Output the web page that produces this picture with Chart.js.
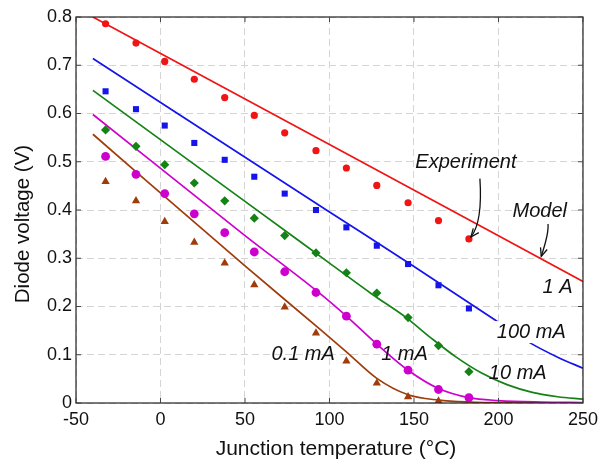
<!DOCTYPE html>
<html>
<head>
<meta charset="utf-8">
<script src="https://cdn.jsdelivr.net/npm/chart.js@4.4.0/dist/chart.umd.min.js"></script>
<style>
html, body { margin: 0; padding: 0; background: #fff; }
#wrap { width: 604px; height: 463px; }
</style>
</head>
<body>
<div id="wrap"><canvas id="myChart"></canvas></div>
<script>
// measured temperatures of the experiment points (deg C)
var temps = [-32.5, -14.5, 2.5, 20, 38, 55.5, 73.5, 92, 110, 128, 146.5, 164.5, 182.5];

// experiment, diode voltage (V)
var exp1A   = [0.786, 0.746, 0.708, 0.671, 0.633, 0.596, 0.560, 0.523, 0.487, 0.451, 0.415, 0.378, 0.340];
var exp100m = [0.646, 0.609, 0.575, 0.539, 0.504, 0.469, 0.434, 0.400, 0.364, 0.326, 0.288, 0.244, 0.196];
var exp10m  = [0.566, 0.532, 0.494, 0.456, 0.419, 0.383, 0.347, 0.311, 0.270, 0.228, 0.177, 0.119, 0.065];
var exp1m   = [0.511, 0.474, 0.434, 0.392, 0.353, 0.313, 0.272, 0.229, 0.180, 0.122, 0.068, 0.028, 0.011];
var exp01m  = [0.459, 0.419, 0.376, 0.333, 0.290, 0.245, 0.199, 0.145, 0.087, 0.041, 0.013, 0.004, 0.002];

// model curves: [T, V]
var model1A   = [[-40, 0.800], [100, 0.536], [250, 0.252]];
var model100m = [[-40, 0.714], [100, 0.396], [150, 0.283], [198, 0.172], [220, 0.122], [235, 0.095], [250, 0.072]];
var model10m  = [[-40, 0.648], [50, 0.418], [100, 0.290], [125, 0.226], [145, 0.178], [160, 0.135], [175, 0.095],
                 [190, 0.062], [205, 0.038], [220, 0.022], [235, 0.013], [250, 0.008]];
var model1m   = [[-40, 0.598], [50, 0.347], [95, 0.225], [110, 0.180], [128, 0.122], [146.5, 0.068], [164.5, 0.030],
                 [182.5, 0.011], [200, 0.005], [225, 0.002], [250, 0.001]];
var model01m  = [[-40, 0.557], [50, 0.284], [95, 0.151], [110, 0.106], [128, 0.051], [146.5, 0.017], [164.5, 0.006],
                 [182.5, 0.002], [210, 0.0005], [250, 0]];

var xTicks = [-50, 0, 50, 100, 150, 200, 250];
var yTicks = [0, 0.1, 0.2, 0.3, 0.4, 0.5, 0.6, 0.7, 0.8];

var xTitle = 'Junction temperature (°C)';
var yTitle = 'Diode voltage (V)';

// text labels in data coordinates
var labels = [
    { text: 'Experiment', x: 180.7, y: 0.498 },
    { text: 'Model', x: 224.4, y: 0.396 },
    { text: '1 A', x: 235.0, y: 0.239 },
    { text: '100 mA', x: 219.4, y: 0.147, white: true },
    { text: '10 mA', x: 211.4, y: 0.062 },
    { text: '1 mA', x: 144.4, y: 0.100 },
    { text: '0.1 mA', x: 84.4, y: 0.100 }
];
// callout arrows: start, control, tip
var arrows = [
    [[189.0, 0.465], [190.7, 0.3755], [183.7, 0.344]],
    [[229.3, 0.371], [229.9, 0.3527], [225.3, 0.304]]
];

var red = 'rgb(240,20,20)', blue = 'rgb(20,20,235)', green = 'rgb(20,130,20)',
    magenta = 'rgb(205,0,205)', brown = 'rgb(160,60,10)';

function pts(ys) { return temps.map(function(t, i) { return { x: t, y: ys[i] }; }); }
function line(arr) { return arr.map(function(p) { return { x: p[0], y: p[1] }; }); }

function scatterSet(ys, color, style, r) {
    return { type: 'scatter', data: pts(ys), pointStyle: style, pointRadius: r,
             backgroundColor: color, borderColor: color, borderWidth: 0, order: 1 };
}
function modelSet(arr, color) {
    return { type: 'line', data: line(arr), borderColor: color, borderWidth: 1.7,
             pointRadius: 0, fill: false, cubicInterpolationMode: 'monotone', order: 2 };
}

var FONT = "'Liberation Sans', Arial, sans-serif";

var decor = {
    id: 'decor',
    afterDatasetsDraw: function(chart) {
        var ctx = chart.ctx, a = chart.chartArea;
        var xs = chart.scales.x, ys = chart.scales.y;
        ctx.save();
        // frame
        ctx.strokeStyle = '#222';
        ctx.lineWidth = 1.2;
        ctx.strokeRect(a.left, a.top, a.right - a.left, a.bottom - a.top);
        // inward ticks
        ctx.strokeStyle = '#444';
        ctx.lineWidth = 1;
        ctx.beginPath();
        xTicks.forEach(function(t) {
            var px = xs.getPixelForValue(t);
            ctx.moveTo(px, a.bottom); ctx.lineTo(px, a.bottom - 5);
            ctx.moveTo(px, a.top); ctx.lineTo(px, a.top + 5);
        });
        yTicks.forEach(function(t) {
            var py = ys.getPixelForValue(t);
            ctx.moveTo(a.left, py); ctx.lineTo(a.left + 5, py);
            ctx.moveTo(a.right, py); ctx.lineTo(a.right - 5, py);
        });
        ctx.stroke();

        // axis titles
        ctx.fillStyle = '#111';
        ctx.textAlign = 'center';
        ctx.textBaseline = 'middle';
        ctx.font = '21px ' + FONT;
        ctx.fillText(xTitle, 336, 449);
        ctx.save();
        ctx.translate(23, 224);
        ctx.rotate(-Math.PI / 2);
        ctx.font = '20.5px ' + FONT;
        ctx.fillText(yTitle, 0, 0);
        ctx.restore();

        // labels
        ctx.font = 'italic 20px ' + FONT;
        labels.forEach(function(l) {
            var px = xs.getPixelForValue(l.x), py = ys.getPixelForValue(l.y);
            if (l.white) {
                var w = ctx.measureText(l.text).width;
                ctx.fillStyle = '#fff';
                ctx.fillRect(px - w / 2 - 2, py - 11, w + 4, 22);
            }
            ctx.fillStyle = '#111';
            ctx.fillText(l.text, px, py);
        });

        // arrows
        ctx.strokeStyle = '#111';
        ctx.lineWidth = 1.3;
        arrows.forEach(function(ar) {
            var p = ar.map(function(q) { return [xs.getPixelForValue(q[0]), ys.getPixelForValue(q[1])]; });
            ctx.beginPath();
            ctx.moveTo(p[0][0], p[0][1]);
            ctx.quadraticCurveTo(p[1][0], p[1][1], p[2][0], p[2][1]);
            ctx.stroke();
            var ang = Math.atan2(p[2][1] - p[1][1], p[2][0] - p[1][0]);
            ctx.beginPath();
            ctx.moveTo(p[2][0] - 9 * Math.cos(ang - 0.4), p[2][1] - 9 * Math.sin(ang - 0.4));
            ctx.lineTo(p[2][0], p[2][1]);
            ctx.lineTo(p[2][0] - 9 * Math.cos(ang + 0.4), p[2][1] - 9 * Math.sin(ang + 0.4));
            ctx.stroke();
        });
        ctx.restore();
    }
};

var ctx = document.getElementById('myChart').getContext('2d');
var chart = new Chart(ctx, {
    data: {
        datasets: [
            modelSet(model1A, red),
            modelSet(model100m, blue),
            modelSet(model10m, green),
            modelSet(model1m, magenta),
            modelSet(model01m, brown),
            scatterSet(exp1A, red, 'circle', 3.6),
            scatterSet(exp100m, blue, 'rect', 4.3),
            scatterSet(exp10m, green, 'rectRot', 4.6),
            scatterSet(exp1m, magenta, 'circle', 4.4),
            scatterSet(exp01m, brown, 'triangle', 4.8)
        ]
    },
    options: {
        responsive: true,
        maintainAspectRatio: false,
        animation: false,
        layout: { padding: { top: 17, right: 21, left: 0, bottom: 0 } },
        plugins: { legend: { display: false }, tooltip: { enabled: false } },
        scales: {
            x: {
                type: 'linear', min: -50, max: 250,
                afterBuildTicks: function(s) { s.ticks = xTicks.map(function(v) { return { value: v }; }); },
                afterFit: function(s) { s.height = 60; },
                grid: { color: '#d4d4d4', lineWidth: 1, drawTicks: false },
                border: { display: false, dash: [7, 4] },
                ticks: { color: '#111', padding: 6, maxRotation: 0, font: { family: FONT, size: 18 } }
            },
            y: {
                type: 'linear', min: 0, max: 0.8,
                afterBuildTicks: function(s) { s.ticks = yTicks.map(function(v) { return { value: v }; }); },
                afterFit: function(s) { s.width = 76; },
                grid: { color: '#d4d4d4', lineWidth: 1, drawTicks: false },
                border: { display: false, dash: [7, 4] },
                ticks: { color: '#111', padding: 4, font: { family: FONT, size: 18 },
                         callback: function(v) { return v === 0 ? '0' : v.toFixed(1); } }
            }
        }
    },
    plugins: [decor]
});
</script>
</body>
</html>
